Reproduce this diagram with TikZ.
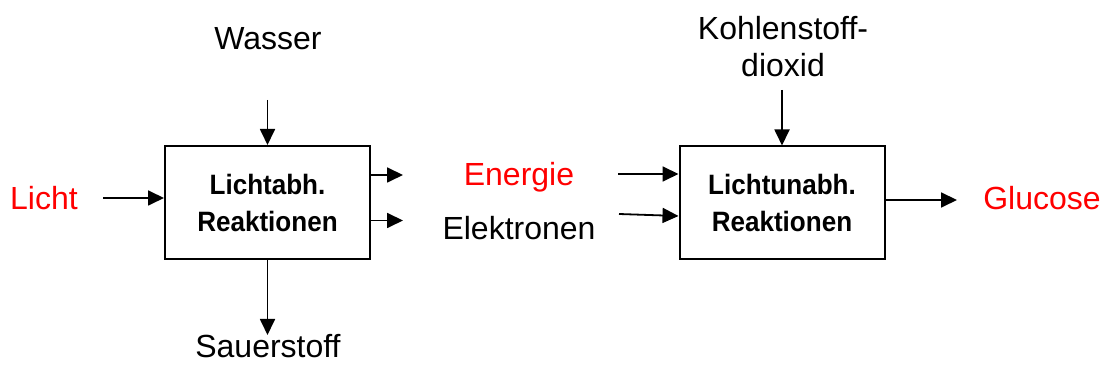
\documentclass[tikz,border=0pt]{standalone}
\usepackage{fontspec}
\setmainfont{Liberation Sans}
\newfontfamily\boxfont{Liberation Sans}[FakeStretch=0.93]
\usetikzlibrary{arrows.meta}
\definecolor{lred}{RGB}{255,0,0}
\tikzset{
  arr/.style={-{Triangle[length=8pt,width=7.5pt]},line width=0.9pt},
  reactbox/.style={draw,line width=1pt,minimum width=102.5pt,minimum height=56.5pt,
    align=center,font=\boxfont\bfseries\fontsize{14}{18.5}\selectfont},
  lbl/.style={anchor=base,inner sep=0pt,font=\fontsize{16}{18.5}\selectfont},
}
\begin{document}
\begin{tikzpicture}[x=0.5pt,y=-0.5pt]
    \useasboundingbox (0,0) rectangle (1111,383);

    % Boxen
    \node[reactbox] (lab) at (267.5,202.5) {Lichtabh.\\Reaktionen};
    \node[reactbox] (lun) at (782,203) {Lichtunabh.\\Reaktionen};

    % Texte
    \node[lbl,text=lred] (licht) at (44,209.5) {Licht};
    \node[lbl] (wasser) at (268,49.5) {Wasser};
    \node[lbl] (sauer) at (268,358) {Sauerstoff};
    \node[lbl,text=lred] (energie) at (519,186) {Energie};
    \node[lbl] (elektr) at (519,240) {Elektronen};
    \node[lbl,align=center] (kohle) at (783,77) {Kohlenstoff-\\dioxid};
    \node[lbl,text=lred] (gluc) at (1042,210) {Glucose};

    % Pfeilenden
    \coordinate (lichtE) at (103,198);
    \coordinate (wasserE) at (267.5,100);
    \coordinate (sauerE) at (267.5,335);
    \coordinate (enA) at (403,175);
    \coordinate (elA) at (403,220.5);
    \coordinate (enB) at (618,174);
    \coordinate (elB) at (619,214);
    \coordinate (kohleE) at (782,90);
    \coordinate (glucA) at (957,200);

    % Pfeile
    \draw[arr] (lichtE) -- (lichtE -| lab.west);
    \draw[arr] (wasserE) -- (lab.north);
    \draw[arr] (lab.south) -- (sauerE);
    \draw[arr] (lab.east |- enA) -- (enA);
    \draw[arr] (lab.east |- elA) -- (elA);
    \draw[arr] (enB) -- (enB -| lun.west);
    \draw[arr] (elB) -- (lun.west |- 0,216);
    \draw[arr] (kohleE) -- (lun.north);
    \draw[arr] (lun.east |- glucA) -- (glucA);

  \end{tikzpicture}
\end{document}
